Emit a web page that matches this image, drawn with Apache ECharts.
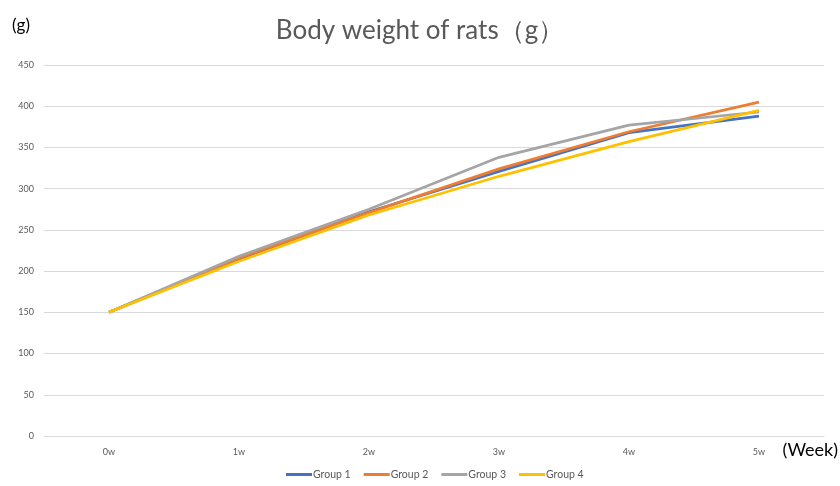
<!DOCTYPE html>
<html><head><meta charset="utf-8">
<script src="https://cdn.jsdelivr.net/npm/echarts@6/dist/echarts.min.js"></script>
<style>html,body{margin:0;padding:0;background:#fff}#c{width:840px;height:486px}</style>
</head><body><div id="c"></div>
<script>
const categories = ['0w','1w','2w','3w','4w','5w'];
const group1 = [150, 214, 272, 321, 368, 388];
const group2 = [150, 216, 271, 324, 369, 405];
const group3 = [150, 218, 275, 338, 377, 393];
const group4 = [150, 212, 268, 315, 357, 395];
const seriesNames = ['Group 1','Group 2','Group 3','Group 4'];
const colors = ['#4472C4','#ED7D31','#A5A5A5','#FFC000'];
const yTicks = {min: 0, max: 450, interval: 50};

const font = 'Lato, "Open Sans", "Liberation Sans", sans-serif';
const data = [group1, group2, group3, group4];
const chart = echarts.init(document.getElementById('c'), null, {renderer: 'canvas'});
chart.setOption({
  animation: false,
  color: colors,
  title: [
    {text: 'Body weight of rats（g）', left: 'center', top: 13, padding: 5,
     textStyle: {fontFamily: font, fontSize: 26, fontWeight: 'normal', color: '#595959'}},
    {text: '(g)', left: 7, top: 12, padding: 5,
     textStyle: {fontFamily: font, fontSize: 17, fontWeight: 'normal', color: '#000'}},
    {text: '(Week)', right: 0, top: 436, padding: [5, 2, 5, 5],
     textStyle: {fontFamily: font, fontSize: 18, fontWeight: 'normal', color: '#000'}}
  ],
  grid: {left: 44, right: 16, top: 65, bottom: 50, containLabel: false},
  legend: {
    top: 464, left: 281, itemWidth: 26, itemHeight: 3, itemGap: 13,
    icon: 'rect',
    textStyle: {fontFamily: font, fontSize: 10.5, color: '#595959', padding: [0,0,0,-4]},
    data: seriesNames
  },
  xAxis: {
    type: 'category', data: categories, boundaryGap: true,
    axisLine: {lineStyle: {color: '#D9D9D9'}}, axisTick: {show: false},
    axisLabel: {fontFamily: font, fontSize: 9, color: '#595959', margin: 12}
  },
  yAxis: {
    type: 'value', min: yTicks.min, max: yTicks.max, interval: yTicks.interval,
    axisLine: {show: false}, axisTick: {show: false},
    splitLine: {lineStyle: {color: '#D9D9D9'}},
    axisLabel: {fontFamily: font, fontSize: 9, color: '#595959', margin: 10}
  },
  series: seriesNames.map((n, i) => ({
    name: n, type: 'line', data: data[i], symbol: 'none',
    lineStyle: {width: 2.75, color: colors[i]}, itemStyle: {color: colors[i]}
  }))
});
</script></body></html>
